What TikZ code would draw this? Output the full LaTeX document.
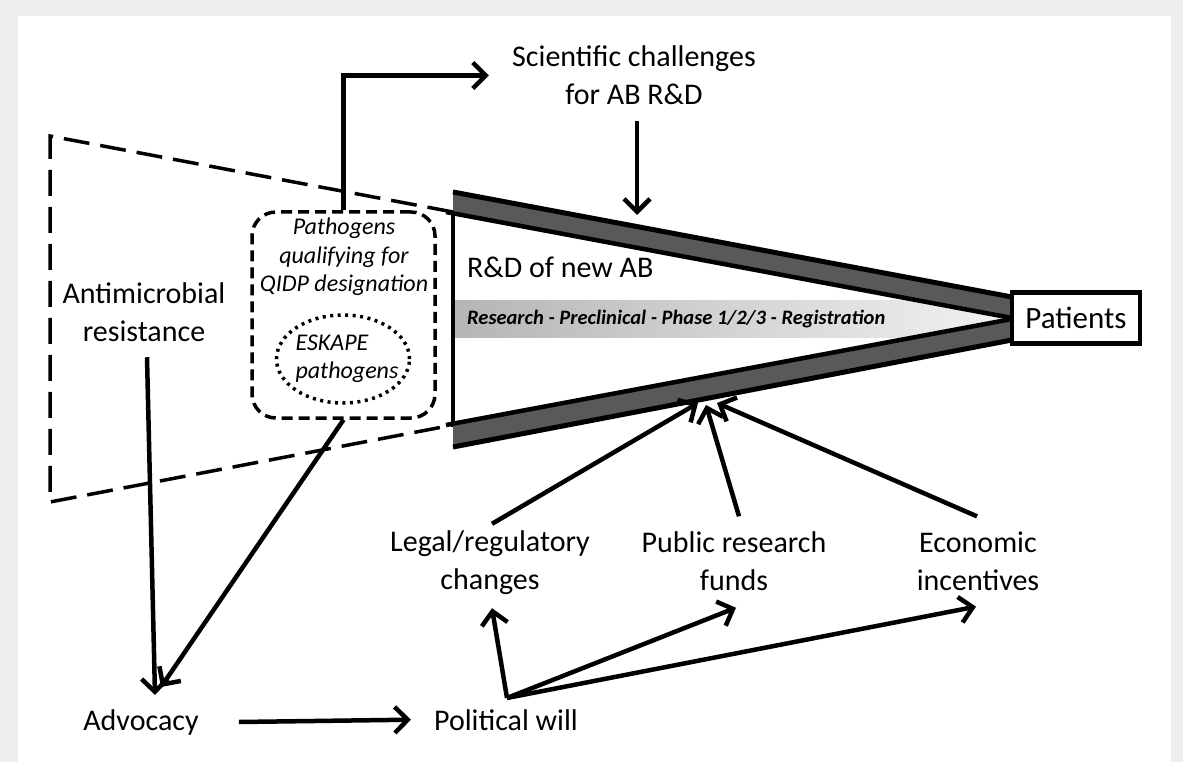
\documentclass[tikz,border=0pt]{standalone}
\usepackage{fontspec}
\setmainfont{Carlito}
\usetikzlibrary{positioning,arrows.meta,shapes.geometric,calc}

\tikzset{
    lbl/.style={align=center, inner sep=3pt, font=\fontsize{30}{38}\selectfont},
    arr/.style={line width=4.5pt, -{Straight Barb[length=13pt,width=26pt]}},
}

\begin{document}
\begin{tikzpicture}[x=1pt, y=-1pt]

    % Frame: grey margin and white panel
    \useasboundingbox (0,0) rectangle (1183,762);
    \fill[gray!13] (0,0) rectangle (1183,762);
    \fill[white] (18,16) rectangle (1171,762);

    % Dashed trapezoid in front of the funnel
    \draw[line width=3.5pt, dash pattern=on 26pt off 11pt] (453,212) -- (50,136) -- (50,502) -- (453,425);

    % Stage bar, clipped to the inside of the funnel
    \begin{scope}
        \clip (453,212) -- (1012,318) -- (453,425) -- cycle;
        \shade[left color=gray!58, right color=gray!10] (453,300) rectangle (1012,337);
    \end{scope}

    % Funnel bands
    \fill[black!65] (453,192) -- (1012,297) -- (1012,318) -- (453,212) -- cycle;
    \draw[line width=5pt] (453,192) -- (1012,297);
    \draw[line width=4.5pt] (446,212) -- (1012,318);
    \fill[black!65] (453,425) -- (1012,319) -- (1012,340) -- (453,447) -- cycle;
    \draw[line width=4.5pt] (446,425) -- (1012,319);
    \draw[line width=5pt] (453,447) -- (1012,340);
    \draw[line width=3.5pt] (453,212) -- (453,425);

    % Patients box at the tip
    \node[
        draw,
        line width=4.5pt,
        fill=white,
        minimum width=128pt,
        minimum height=51pt,
        font=\fontsize{31}{38}\selectfont
    ] (pat) at (1076,318) {Patients};

    % Texts inside the funnel
    \node[anchor=base west, inner sep=0pt, font=\fontsize{30}{38}\selectfont] (rd) at (467,277) {R\&D of new AB};
    \node[anchor=west, inner sep=0pt, font=\fontsize{20.5}{24}\selectfont\bfseries\itshape] (stages) at (467,319) {Research - Preclinical - Phase 1/2/3 - Registration};

    % QIDP box with ESKAPE ellipse
    \node[
        draw,
        line width=3.5pt,
        dash pattern=on 11pt off 6pt,
        rounded corners=24pt,
        minimum width=183pt,
        minimum height=206pt
    ] (qidp) at (343.5,315) {};
    \node[align=center, inner sep=0pt, font=\fontsize{24}{28.5}\selectfont\itshape] (qidptxt) at (344,257) {Pathogens\\qualifying for\\QIDP designation};
    \node[
        ellipse,
        draw,
        line width=3.5pt,
        dash pattern=on 3pt off 4.5pt,
        minimum width=133pt,
        minimum height=88pt
    ] (eskape) at (343,359) {};
    \node[align=left, inner sep=0pt, font=\fontsize{24}{28.5}\selectfont\itshape] (eskapetxt) at ($(eskape.center)+(4,0)$) {ESKAPE\\pathogens};

    % Outer labels
    \node[lbl] (sci) at (634,75.5) {Scientific challenges\\for AB R\&D};
    \node[lbl] (amr) at (144,312.5) {Antimicrobial\\resistance};
    \node[lbl] (leg) at (490,563) {Legal/regulatory\\changes};
    \node[lbl] (pub) at (734,561) {Public research\\funds};
    \node[lbl] (eco) at (978,561) {Economic\\incentives};
    \node[lbl, anchor=base] (adv) at (141,730) {Advocacy};
    \node[lbl, anchor=base] (pol) at (506,730) {Political will};

    % Arrows around the funnel
    \coordinate (scitip) at (637,215);
    \draw[arr] (qidp.north) |- ($(sci.west)+(-20,0)$);
    \draw[arr] ($(sci.south -| scitip)+(0,13)$) -- (scitip);
    \draw[arr] ($(amr.south)+(3,12)$) -- ($(adv.north)+(14,-11)$);
    \draw[arr] (qidp.south) -- ($(adv.north)+(20,-19)$);
    \draw[arr] ($(adv.east)+(37,0)$) -- ($(pol.west)+(-20,0)$);

    % Political will feeds the three levers
    \coordinate (polv) at ($(pol.north)+(1,-8)$);
    \draw[arr] (polv) -- ($(leg.south)+(2,10)$);
    \draw[arr] (polv) -- ($(pub.south)+(2,14)$);
    \draw[arr] (polv) -- ($(eco.south)+(-2,13)$);

    % Levers push on the lower band
    \coordinate (legtip) at (698,403);
    \coordinate (pubtip) at (706,405);
    \coordinate (ecotip) at (717,403);
    \draw[arr] ($(leg.north)+(2,-4)$) -- (legtip);
    \draw[arr] ($(pub.north)+(5,-12)$) -- (pubtip);
    \draw[arr] ($(eco.north)+(-1,-12)$) -- (ecotip);

\end{tikzpicture}
\end{document}
